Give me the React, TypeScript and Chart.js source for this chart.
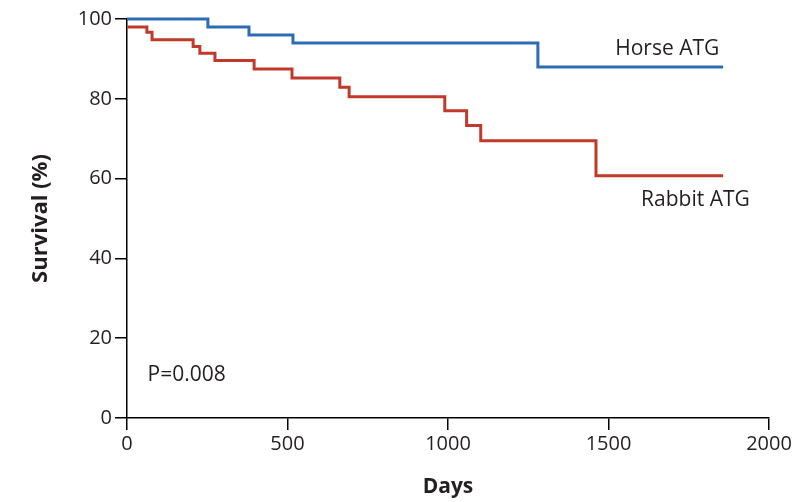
import React, { useEffect, useRef } from "react";
import { Chart, registerables } from "chart.js";

Chart.register(...registerables);

// Kaplan-Meier steps: day of event, survival (%) after event
const horseDays = [0, 252, 380, 517, 1280, 1857];
const horseSurv = [100, 98, 96, 94, 88, 88];

const rabbitDays = [0, 62, 78, 206, 227, 274, 396, 514, 663, 692, 990, 1058, 1102, 1461, 1857];
const rabbitSurv = [98, 96.7, 94.8, 93.1, 91.4, 89.6, 87.5, 85.2, 82.9, 80.5, 77.0, 73.3, 69.5, 60.7, 60.7];

const xTicks = [0, 500, 1000, 1500, 2000];
const yTicks = [0, 20, 40, 60, 80, 100];

const labels = [
  { text: "Horse ATG", x: 1845, y: 92.5, align: "right" },
  { text: "Rabbit ATG", x: 1940, y: 54.6, align: "right" },
  { text: "P=0.008", x: 64, y: 10.8, align: "left" },
];

const FONT = "'Open Sans', 'DejaVu Sans', sans-serif";

export default function App() {
  const ref = useRef<HTMLCanvasElement>(null);
  useEffect(() => {
    if (!ref.current) return;
    const textPlugin = {
      id: "txt",
      afterDatasetsDraw(chart: any) {
        const { ctx, scales } = chart;
        ctx.save();
        ctx.fillStyle = "#231f20";
        ctx.font = `21px ${FONT}`;
        ctx.textBaseline = "middle";
        for (const l of labels) {
          ctx.textAlign = l.align;
          ctx.fillText(l.text, scales.x.getPixelForValue(l.x), scales.y.getPixelForValue(l.y));
        }
        ctx.restore();
      },
    };
    const chart = new Chart(ref.current, {
      type: "line",
      data: {
        datasets: [
          {
            label: "Horse ATG",
            data: horseDays.map((d, i) => ({ x: d, y: horseSurv[i] })),
            borderColor: "#2b6cb4",
            borderWidth: 3,
            stepped: "before",
            pointRadius: 0,
            fill: false,
            clip: false,
          },
          {
            label: "Rabbit ATG",
            data: rabbitDays.map((d, i) => ({ x: d, y: rabbitSurv[i] })),
            borderColor: "#c0392b",
            borderWidth: 3,
            stepped: "before",
            pointRadius: 0,
            fill: false,
            clip: false,
          },
        ],
      },
      options: {
        animation: false,
        responsive: false,
        maintainAspectRatio: false,
        layout: { padding: { top: 19, right: 43, left: 0, bottom: 0 } },
        plugins: { legend: { display: false }, tooltip: { enabled: false } },
        scales: {
          x: {
            type: "linear",
            min: 0,
            max: 2000,
            afterBuildTicks: (s: any) => {
              s.ticks = xTicks.map((v) => ({ value: v }));
            },
            afterFit: (s: any) => {
              s.height = 84;
            },
            border: { color: "#000", width: 1.5 },
            grid: { drawOnChartArea: false, color: "#000", tickLength: 12, lineWidth: 1.5 },
            ticks: {
              color: "#231f20",
              font: { family: FONT, size: 20 },
              padding: 2,
              maxRotation: 0,
              callback: (v: any) => String(v),
            },
            title: {
              display: true,
              text: "Days",
              color: "#231f20",
              font: { family: FONT, size: 21, weight: "bold" },
              padding: { top: 0, bottom: 2 },
            },
          },
          y: {
            type: "linear",
            min: 0,
            max: 100,
            afterBuildTicks: (s: any) => {
              s.ticks = yTicks.map((v) => ({ value: v }));
            },
            afterFit: (s: any) => {
              s.width = 127;
            },
            border: { color: "#000", width: 1.5 },
            grid: { drawOnChartArea: false, color: "#000", tickLength: 12, lineWidth: 1.5 },
            ticks: {
              color: "#231f20",
              font: { family: FONT, size: 20 },
              padding: 3,
              callback: (v: any) => String(v),
            },
            title: {
              display: true,
              text: "Survival (%)",
              color: "#231f20",
              font: { family: FONT, size: 22, weight: "bold" },
              padding: { top: 28, bottom: 0 },
            },
          },
        },
      },
      plugins: [textPlugin],
    } as any);
    return () => chart.destroy();
  }, []);
  return (
    <div style={{ position: "absolute", left: 0, top: 0, width: 812, height: 502, background: "#fff" }}>
      <canvas ref={ref} width={812} height={502} style={{ width: 812, height: 502 }} />
    </div>
  );
}
